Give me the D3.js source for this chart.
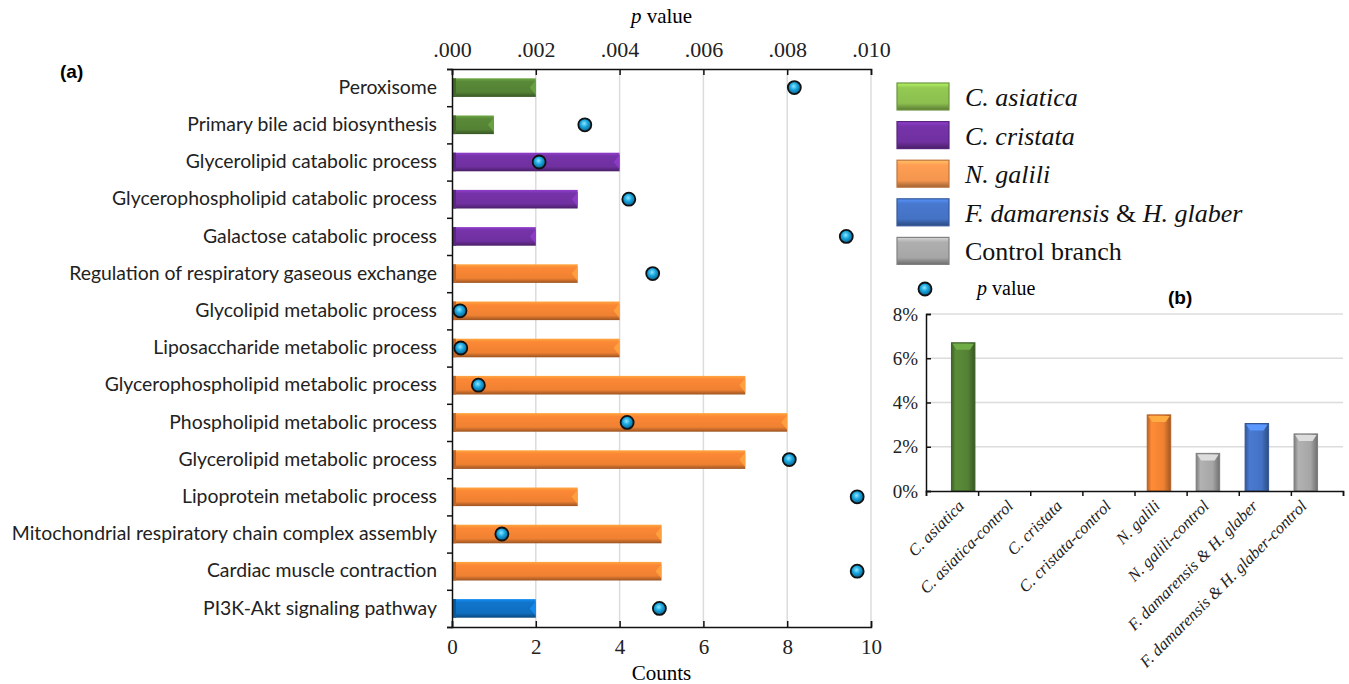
<!DOCTYPE html>
<html>
<head>
<meta charset="utf-8">
<script src="https://cdn.jsdelivr.net/npm/d3@7"></script>
<style>
  body { margin: 0; background: #fff; }
  svg { display: block; }
</style>
</head>
<body>
<svg id="chart"></svg>
<script>
// panel (a) data
const pathways = ["Peroxisome", "Primary bile acid biosynthesis", "Glycerolipid catabolic process",
  "Glycerophospholipid catabolic process", "Galactose catabolic process",
  "Regulation of respiratory gaseous exchange", "Glycolipid metabolic process",
  "Liposaccharide metabolic process", "Glycerophospholipid metabolic process",
  "Phospholipid metabolic process", "Glycerolipid metabolic process",
  "Lipoprotein metabolic process", "Mitochondrial respiratory chain complex assembly",
  "Cardiac muscle contraction", "PI3K-Akt signaling pathway"];
const counts = [2, 1, 4, 3, 2, 3, 4, 4, 7, 8, 7, 3, 5, 5, 2];
const pValues = [0.00817, 0.00317, 0.00208, 0.00422, 0.00941, 0.00479, 0.00019, 0.00021,
  0.00063, 0.00418, 0.00805, 0.00967, 0.00119, 0.00967, 0.00495];
const pathwayGroup = ["asi", "asi", "cri", "cri", "cri", "gal", "gal", "gal", "gal", "gal",
  "gal", "gal", "gal", "gal", "fdh"];
const countTicks = [0, 2, 4, 6, 8, 10];
const pTicks = [0, 0.002, 0.004, 0.006, 0.008, 0.010];

// legend
const legendNames = ["C. asiatica", "C. cristata", "N. galili", "F. damarensis & H. glaber", "Control branch"];
const legendGroup = ["asiL", "cri", "galL", "fdhL", "ctl"];

// panel (b) data
const branches = ["C. asiatica", "C. asiatica-control", "C. cristata", "C. cristata-control",
  "N. galili", "N. galili-control", "F. damarensis & H. glaber", "F. damarensis & H. glaber-control"];
const percents = [6.7, 0, 0, 0, 3.44, 1.7, 3.05, 2.58];
const branchGroup = ["asi", "ctl", "cri", "ctl", "gal", "ctl", "fdhL", "ctl"];
const percentTicks = [0, 2, 4, 6, 8];

const colors = {
  asi: "#548235", asiL: "#8cbf4f", cri: "#7030a0", gal: "#ef8132", galL: "#f4964f",
  fdh: "#0f6fc0", fdhL: "#4472c4", ctl: "#a6a6a6"
};

const width = 1349, height = 684;
const svg = d3.select("#chart").attr("width", width).attr("height", height);
const defs = svg.append("defs");

// bevel-like gradients
Object.entries(colors).forEach(([k, c]) => {
  const base = d3.color(c);
  const gv = defs.append("linearGradient").attr("id", "gv-" + k)
    .attr("x1", 0).attr("y1", 0).attr("x2", 0).attr("y2", 1);
  gv.append("stop").attr("offset", "0%").attr("stop-color", base.brighter(0.7));
  gv.append("stop").attr("offset", "18%").attr("stop-color", base.brighter(0.15));
  gv.append("stop").attr("offset", "75%").attr("stop-color", base);
  gv.append("stop").attr("offset", "100%").attr("stop-color", base.darker(1.2));
  const gh = defs.append("linearGradient").attr("id", "gh-" + k)
    .attr("x1", 0).attr("y1", 0).attr("x2", 1).attr("y2", 0);
  gh.append("stop").attr("offset", "0%").attr("stop-color", base.darker(0.8));
  gh.append("stop").attr("offset", "18%").attr("stop-color", base.brighter(0.2));
  gh.append("stop").attr("offset", "70%").attr("stop-color", base);
  gh.append("stop").attr("offset", "100%").attr("stop-color", base.darker(1.1));
});
const dotGrad = defs.append("radialGradient").attr("id", "dot")
  .attr("cx", "45%").attr("cy", "40%").attr("r", "60%");
dotGrad.append("stop").attr("offset", "0%").attr("stop-color", "#8fe6ff");
dotGrad.append("stop").attr("offset", "45%").attr("stop-color", "#19a7df");
dotGrad.append("stop").attr("offset", "100%").attr("stop-color", "#0a5f8c");

// ---------- panel (a) ----------
const ax0 = 452, ax1 = 871, ay0 = 69, ay1 = 627;
const x = d3.scaleLinear().domain([0, 10]).range([ax0, ax1]);
const xp = d3.scaleLinear().domain([0, 0.01]).range([ax0, ax1]);
const y = d3.scaleBand().domain(pathways).range([ay0, ay1]).paddingInner(0.5).paddingOuter(0.25);
const yIdx = d3.scaleLinear().domain([0, pathways.length]).range([ay0, ay1]);

const pa = svg.append("g").attr("class", "panelA");

// grid
pa.append("g").selectAll("line").data(countTicks.slice(1)).enter().append("line")
  .attr("x1", d => x(d)).attr("x2", d => x(d))
  .attr("y1", ay0).attr("y2", ay1)
  .attr("stroke", "#dcdcdc").attr("stroke-width", 1.5);

// bars
const bars = pa.append("g").selectAll("g").data(pathways).enter().append("g");
bars.append("rect")
  .attr("x", x(0)).attr("y", d => y(d))
  .attr("width", (d, i) => x(counts[i]) - x(0)).attr("height", y.bandwidth())
  .attr("fill", (d, i) => `url(#gv-${pathwayGroup[i]})`);
bars.append("rect")
  .attr("x", x(0)).attr("y", d => y(d))
  .attr("width", 4).attr("height", y.bandwidth())
  .attr("fill", (d, i) => d3.color(colors[pathwayGroup[i]]).darker(0.6));
bars.append("path")
  .attr("d", (d, i) => {
    const xe = x(counts[i]), y0 = y(d), h = y.bandwidth();
    return `M${xe},${y0 + 2}L${xe - 6},${y0 + h / 2}L${xe},${y0 + h - 2}Z`;
  })
  .attr("fill", (d, i) => d3.color(colors[pathwayGroup[i]]).brighter(0.6));

// axes
pa.append("g").attr("transform", `translate(0,${ay1})`)
  .call(d3.axisBottom(x).tickValues(countTicks).tickSize(-6).tickPadding(12))
  .call(g => g.selectAll("text").attr("font-family", "Liberation Serif, serif").attr("font-size", 21).attr("fill", "#222"))
  .call(g => g.selectAll("line, path").attr("stroke", "#111").attr("stroke-width", 1.5));

pa.append("g").attr("transform", `translate(0,${ay0})`)
  .call(d3.axisTop(xp).tickValues(pTicks).tickSize(-6).tickPadding(12)
    .tickFormat(d => d3.format(".3f")(d).replace(/^0/, "")))
  .call(g => g.selectAll("text").attr("font-family", "Liberation Serif, serif").attr("font-size", 22).attr("fill", "#222"))
  .call(g => g.selectAll("line, path").attr("stroke", "#111").attr("stroke-width", 1.5));

pa.append("g").attr("transform", `translate(${ax0},0)`)
  .call(d3.axisLeft(yIdx).ticks(pathways.length).tickSize(5).tickFormat(""))
  .call(g => g.selectAll("line, path").attr("stroke", "#111").attr("stroke-width", 1.5));

pa.append("g").attr("transform", `translate(${ax0},0)`)
  .call(d3.axisLeft(y).tickSize(0).tickPadding(15))
  .call(g => g.select(".domain").remove())
  .call(g => g.selectAll("text").attr("font-family", "Lato, sans-serif").attr("font-size", 19.4).attr("fill", "#222"));

// p-value dots
pa.append("g").selectAll("circle").data(pathways).enter().append("circle")
  .attr("cx", (d, i) => xp(pValues[i])).attr("cy", d => y(d) + y.bandwidth() / 2)
  .attr("r", 6.5).attr("fill", "url(#dot)").attr("stroke", "#111").attr("stroke-width", 1.8);

// titles
const pv = pa.append("text").attr("x", (ax0 + ax1) / 2).attr("y", 23)
  .attr("text-anchor", "middle").attr("font-family", "Liberation Serif, serif").attr("font-size", 21);
pv.append("tspan").attr("font-style", "italic").text("p");
pv.append("tspan").text(" value");
pa.append("text").attr("x", (ax0 + ax1) / 2).attr("y", 680)
  .attr("text-anchor", "middle").attr("font-family", "Liberation Serif, serif").attr("font-size", 21)
  .text("Counts");
svg.append("text").attr("x", 60).attr("y", 78).attr("font-family", "Liberation Sans, Arial, sans-serif")
  .attr("font-weight", "bold").attr("font-size", 19).text("(a)");

// ---------- legend ----------
const lg = svg.append("g").attr("class", "legend");
const ly = d3.scaleBand().domain(legendNames).range([77, 270]);
const li = lg.selectAll("g").data(legendNames).enter().append("g")
  .attr("transform", d => `translate(897,${ly(d) + 6})`);
li.append("rect").attr("width", 52).attr("height", 27)
  .attr("fill", (d, i) => `url(#gv-${legendGroup[i]})`)
  .attr("stroke", (d, i) => d3.color(colors[legendGroup[i]]).darker(0.7)).attr("stroke-width", 1.2);
li.each(function (d, i) {
  const t = d3.select(this).append("text").attr("x", 68).attr("y", 23)
    .attr("font-family", "Liberation Serif, serif").attr("font-size", 26).attr("fill", "#111");
  if (i === 4) { t.text(d); return; }
  d.split(/( & )/).forEach(part => {
    t.append("tspan").attr("font-style", part === " & " ? "normal" : "italic").text(part);
  });
});
lg.append("circle").attr("cx", 925).attr("cy", 289).attr("r", 6.5)
  .attr("fill", "url(#dot)").attr("stroke", "#111").attr("stroke-width", 1.8);
const lpv = lg.append("text").attr("x", 977).attr("y", 295)
  .attr("font-family", "Liberation Serif, serif").attr("font-size", 20);
lpv.append("tspan").attr("font-style", "italic").text("p");
lpv.append("tspan").text(" value");

// ---------- panel (b) ----------
const bx0 = 926, bx1 = 1343, by0 = 314, by1 = 491;
const xb = d3.scaleBand().domain(branches).range([bx0, bx1]).padding(0.52);
const xbEdge = d3.scaleLinear().domain([0, branches.length]).range([bx0, bx1]);
const yb = d3.scaleLinear().domain([0, 8]).range([by1, by0]);
const pb = svg.append("g").attr("class", "panelB");

pb.append("g").selectAll("line").data(percentTicks.slice(1)).enter().append("line")
  .attr("x1", bx0).attr("x2", bx1).attr("y1", d => yb(d)).attr("y2", d => yb(d))
  .attr("stroke", "#dcdcdc").attr("stroke-width", 1.5);

const bb = pb.append("g").selectAll("g").data(branches).enter().append("g")
  .filter((d, i) => percents[i] > 0);
bb.append("rect")
  .attr("x", d => xb(d)).attr("y", d => yb(percents[branches.indexOf(d)]))
  .attr("width", xb.bandwidth())
  .attr("height", d => yb(0) - yb(percents[branches.indexOf(d)]))
  .attr("fill", d => `url(#gh-${branchGroup[branches.indexOf(d)]})`)
  .attr("stroke", d => d3.color(colors[branchGroup[branches.indexOf(d)]]).darker(0.8)).attr("stroke-width", 1);
bb.append("path")
  .attr("d", d => {
    const x0 = xb(d), w = xb.bandwidth(), yt = yb(percents[branches.indexOf(d)]);
    return `M${x0 + 1},${yt + 1}L${x0 + w - 1},${yt + 1}L${x0 + w - 5},${yt + 7}L${x0 + 5},${yt + 7}Z`;
  })
  .attr("fill", d => d3.color(colors[branchGroup[branches.indexOf(d)]]).brighter(0.8));

pb.append("g").attr("transform", `translate(${bx0},0)`)
  .call(d3.axisLeft(yb).tickValues(percentTicks).tickSize(-5).tickPadding(8).tickFormat(d => d + "%"))
  .call(g => g.selectAll("text").attr("font-family", "Liberation Serif, serif").attr("font-size", 19).attr("fill", "#222"))
  .call(g => g.selectAll("line, path").attr("stroke", "#111").attr("stroke-width", 1.5));

pb.append("g").attr("transform", `translate(0,${by1})`)
  .call(d3.axisBottom(xbEdge).ticks(branches.length).tickSize(5).tickFormat(""))
  .call(g => g.selectAll("line, path").attr("stroke", "#111").attr("stroke-width", 1.5));

pb.append("g").attr("transform", `translate(0,${by1})`)
  .call(d3.axisBottom(xb).tickSize(0).tickPadding(0))
  .call(g => g.select(".domain").remove())
  .call(g => g.selectAll("text")
    .attr("font-family", "Liberation Serif, serif").attr("font-style", "italic").attr("font-size", 16.5)
    .attr("fill", "#222").attr("text-anchor", "end").attr("dy", 0).attr("y", 0)
    .attr("transform", "translate(2,16) rotate(-45)"));

svg.append("text").attr("x", 1168).attr("y", 304).attr("font-family", "Liberation Sans, Arial, sans-serif")
  .attr("font-weight", "bold").attr("font-size", 19).text("(b)");
</script>
</body>
</html>
